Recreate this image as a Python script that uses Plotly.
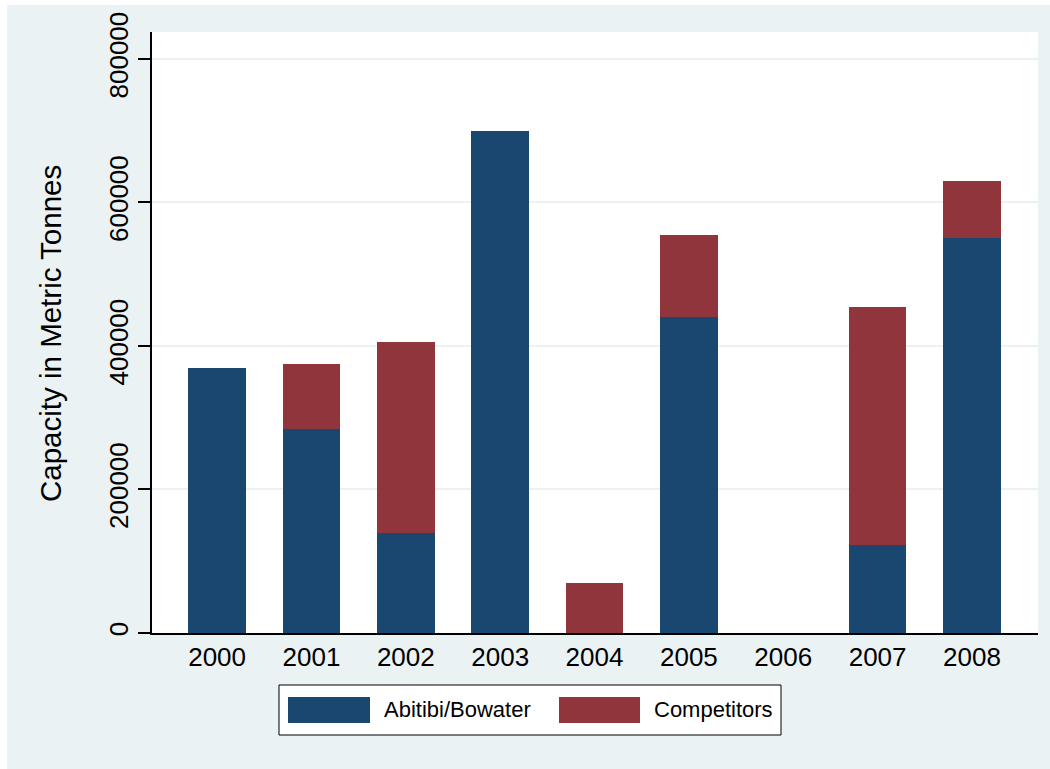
import plotly.graph_objects as go

years = [2000, 2001, 2002, 2003, 2004, 2005, 2006, 2007, 2008]
abitibi = [370000, 285000, 140000, 700000, 0, 440000, 0, 123000, 550000]
competitors = [0, 90000, 265000, 0, 70000, 115000, 0, 332000, 80000]
series_names = ["Abitibi/Bowater", "Competitors"]
ytick_vals = [0, 200000, 400000, 600000, 800000]
ytick_text = ["0", "200000", "400000", "600000", "800000"]

BLUE = "#1a476f"
RED = "#90353b"
BG = "#eaf2f3"
FONT = "Liberation Sans, Arial, sans-serif"

fig = go.Figure()
fig.add_trace(go.Bar(x=years, y=abitibi, name=series_names[0], marker=dict(color=BLUE, line=dict(width=0)), width=0.61))
fig.add_trace(go.Bar(x=years, y=competitors, name=series_names[1], marker=dict(color=RED, line=dict(width=0)), width=0.61))

W, H = 1050, 769
L, R, T, B = 152, 12, 32, 136
pw = W - L - R
ph = H - T - B

def px(x):
    return (x - L) / pw

def py(y):
    return (H - B - y) / ph

shapes = [
    # white outer border strips (left and top)
    dict(type="rect", xref="paper", yref="paper", x0=px(-5), x1=px(7), y0=py(H + 5), y1=py(-5),
         fillcolor="white", line=dict(width=0), layer="below"),
    dict(type="rect", xref="paper", yref="paper", x0=px(-5), x1=px(W + 5), y0=py(5), y1=py(-5),
         fillcolor="white", line=dict(width=0), layer="below"),
    # legend box
    dict(type="rect", xref="paper", yref="paper", x0=px(279), x1=px(781), y0=py(735), y1=py(685),
         fillcolor="white", line=dict(color="black", width=1)),
    dict(type="rect", xref="paper", yref="paper", x0=px(288), x1=px(370), y0=py(723), y1=py(697),
         fillcolor=BLUE, line=dict(width=0)),
    dict(type="rect", xref="paper", yref="paper", x0=px(559), x1=px(640), y0=py(723), y1=py(697),
         fillcolor=RED, line=dict(width=0)),
]

annotations = [
    dict(text="Capacity in Metric Tonnes", xref="paper", yref="paper", x=px(50), y=py(334),
         textangle=-90, showarrow=False, xanchor="center", yanchor="middle",
         font=dict(family=FONT, size=29.5, color="black")),
    dict(text=series_names[0], xref="paper", yref="paper", x=px(382), y=py(710),
         showarrow=False, xanchor="left", yanchor="middle",
         font=dict(family=FONT, size=22, color="black")),
    dict(text=series_names[1], xref="paper", yref="paper", x=px(652), y=py(710),
         showarrow=False, xanchor="left", yanchor="middle",
         font=dict(family=FONT, size=22, color="black")),
]

fig.update_layout(
    barmode="stack",
    width=W, height=H,
    margin=dict(l=L, r=R, t=T, b=B, pad=0),
    paper_bgcolor=BG,
    plot_bgcolor="white",
    showlegend=False,
    bargap=0.39,
    font=dict(family=FONT, size=26, color="black"),
    shapes=shapes,
    annotations=annotations,
    xaxis=dict(
        tickmode="array", tickvals=years, ticktext=[str(y) for y in years],
        range=[1999.31, 2008.7], showgrid=False, zeroline=False,
        showline=True, linecolor="black", linewidth=1.5,
        ticks="", tickfont=dict(size=26), fixedrange=True,
    ),
    yaxis=dict(
        tickmode="array", tickvals=ytick_vals, ticktext=ytick_text,
        range=[0, 837600], showgrid=True, gridcolor=BG, gridwidth=1.5,
        zeroline=False, showline=True, linecolor="black", linewidth=1.5,
        ticks="outside", ticklen=12, tickwidth=1.5, tickcolor="black",
        tickangle=-90, tickfont=dict(size=26), fixedrange=True,
    ),
)

fig.write_html("out.html")
